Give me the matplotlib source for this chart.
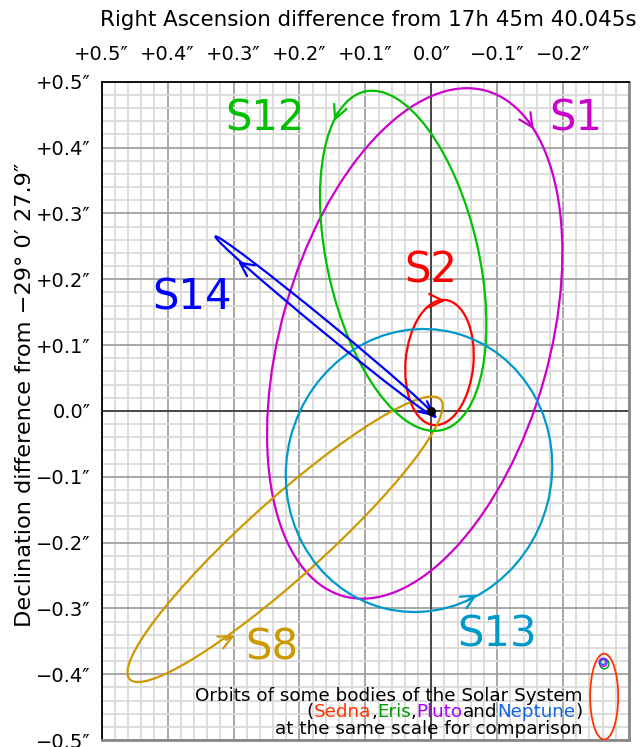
import numpy as np
import matplotlib
matplotlib.use('Agg')
import matplotlib.pyplot as plt
from matplotlib.patches import Ellipse
from matplotlib import transforms

# orbits (arcsec, x = RA offset, grows to the left)
stars = ['S1', 'S2', 'S8', 'S12', 'S13', 'S14']
star_colors = ['#cc00cc', '#ff0000', '#cc9900', '#00c000', '#0099cc', '#0000ff']
orbit_cx = [0.0251, -0.0125, 0.2218, 0.0426, 0.0186, 0.1606]
orbit_cy = [0.1024, 0.0734, -0.1951, 0.2279, -0.0906, 0.1279]
orbit_w = [0.7976, 0.1908, 0.6347, 0.5273, 0.4317, 0.4315]
orbit_h = [0.4073, 0.1029, 0.1181, 0.2295, 0.4024, 0.0167]
orbit_ang = [105.8, 95.2, 138.0, 77.2, 104.4, 39.4]

label_x = [-0.2192, 0.0015, 0.242, 0.2527, -0.1005, 0.3623]
label_y = [0.4444, 0.2131, -0.3592, 0.4444, -0.3394, 0.172]

# direction arrows: star index, tip, tail
arrow_star = [0, 1, 2, 3, 4, 5, 5]
arrow_tip_x = [-0.1553, -0.0213, 0.2983, 0.1476, -0.0696, 0.2933, -0.0061]
arrow_tip_y = [0.4277, 0.1674, -0.341, 0.4399, -0.279, 0.2272, -0.0087]
arrow_tail_x = [-0.147, -0.0152, 0.312, 0.1416, -0.0563, 0.2823, 0.0033]
arrow_tail_y = [0.4405, 0.1674, -0.3478, 0.4539, -0.2866, 0.2192, -0.0011]

# solar system bodies at same scale
ss_names = ['Sedna', 'Eris', 'Pluto', 'Neptune']
ss_colors = ['#ff3300', '#009900', '#aa00ff', '#1166dd']
ss_cx = [-0.2623, -0.2626, -0.2607, -0.2607]
ss_cy = [-0.4341, -0.3843, -0.382, -0.3816]
ss_w = [0.0426, 0.0137, 0.0122, 0.0076]
ss_h = [0.1304, 0.0152, 0.0122, 0.0076]

xticks = [0.5, 0.4, 0.3, 0.2, 0.1, 0.0, -0.1, -0.2]
xticklabels = ['+0.5″', '+0.4″', '+0.3″', '+0.2″', '+0.1″', '0.0″', '−0.1″', '−0.2″']
yticks = [0.5, 0.4, 0.3, 0.2, 0.1, 0.0, -0.1, -0.2, -0.3, -0.4, -0.5]
yticklabels = ['+0.5″', '+0.4″', '+0.3″', '+0.2″', '+0.1″', '0.0″',
               '−0.1″', '−0.2″', '−0.3″', '−0.4″', '−0.5″']

fig = plt.figure(figsize=(6.44, 7.47), dpi=100)
ax = fig.add_axes([101.7/644, 7/747, 527.3/644, 658.3/747])
ax.set_xlim(0.5, -0.3)
ax.set_ylim(-0.5, 0.5)

# grid
ax.set_xticks(np.arange(-0.3, 0.51, 0.02), minor=True)
ax.set_yticks(np.arange(-0.5, 0.51, 0.02), minor=True)
ax.set_xticks(xticks)
ax.set_xticklabels(xticklabels, fontsize=14)
ax.set_yticks(yticks)
ax.set_yticklabels(yticklabels, fontsize=14)
ax.xaxis.tick_top()
ax.tick_params(which='both', length=0)
ax.tick_params(axis='x', pad=13)
ax.tick_params(axis='y', pad=8)
ax.grid(which='minor', color='#dadada', lw=1.3)
ax.grid(which='major', color='#a0a0a0', lw=1.3)
ax.axvline(0, color='#404040', lw=1.3)
ax.axhline(0, color='#404040', lw=1.3)
ax.set_axisbelow(True)
for s in ['top', 'left']:
    ax.spines[s].set_color('black')
    ax.spines[s].set_linewidth(1.3)
for s in ['right', 'bottom']:
    ax.spines[s].set_color('#888888')
    ax.spines[s].set_linewidth(2)

for i in range(len(stars)):
    e = Ellipse((orbit_cx[i], orbit_cy[i]), orbit_w[i], orbit_h[i], angle=orbit_ang[i],
                fill=False, edgecolor=star_colors[i], lw=1.6, zorder=3)
    ax.add_patch(e)
    ax.text(label_x[i], label_y[i], stars[i], color=star_colors[i], fontsize=30,
            ha='center', va='center', zorder=4)

for k in range(len(arrow_star)):
    c = star_colors[arrow_star[k]]
    ax.annotate('', xy=(arrow_tip_x[k], arrow_tip_y[k]), xytext=(arrow_tail_x[k], arrow_tail_y[k]),
                arrowprops=dict(arrowstyle='->,head_length=0.65,head_width=0.32', color=c,
                                lw=1.6, mutation_scale=15, shrinkA=0, shrinkB=0), zorder=3)

ax.plot([0], [0], 'o', color='black', ms=5.5, zorder=5)

for i in range(len(ss_names)):
    lw = 1.3 if i == 0 else 1.0
    e = Ellipse((ss_cx[i], ss_cy[i]), ss_w[i], ss_h[i], fill=False,
                edgecolor=ss_colors[i], lw=lw, zorder=3)
    ax.add_patch(e)

# caption of the inset
fs = 13.2
ax.text(-0.2294, -0.441, 'Orbits of some bodies of the Solar System', fontsize=fs,
        ha='right', va='baseline', zorder=4)
ax.text(-0.2294, -0.4906, 'at the same scale for comparison', fontsize=fs,
        ha='right', va='baseline', zorder=4)
pieces = [('(', 'black'), ('Sedna', ss_colors[0]), (',', 'black'), ('Eris', ss_colors[1]),
          (',', 'black'), ('Pluto', ss_colors[2]), ('and', 'black'),
          ('Neptune', ss_colors[3]), (')', 'black')]
renderer = fig.canvas.get_renderer()
tr = ax.transData
for s, c in pieces[::-1]:
    t = ax.text(-0.2294, -0.4653, s, color=c, fontsize=fs, ha='right', va='baseline',
                transform=tr, zorder=4)
    ex = t.get_window_extent(renderer)
    tr = transforms.offset_copy(t.get_transform(), x=-ex.width, units='dots')

fig.text(368/644, 1 - 20/747, 'Right Ascension difference from 17h 45m 40.045s',
         fontsize=15.4, ha='center', va='center')
fig.text(25/644, 1 - 395/747, 'Declination difference from −29° 0′ 27.9″',
         fontsize=16.2, ha='center', va='center', rotation=90)

fig.savefig('out.png', dpi=100)
